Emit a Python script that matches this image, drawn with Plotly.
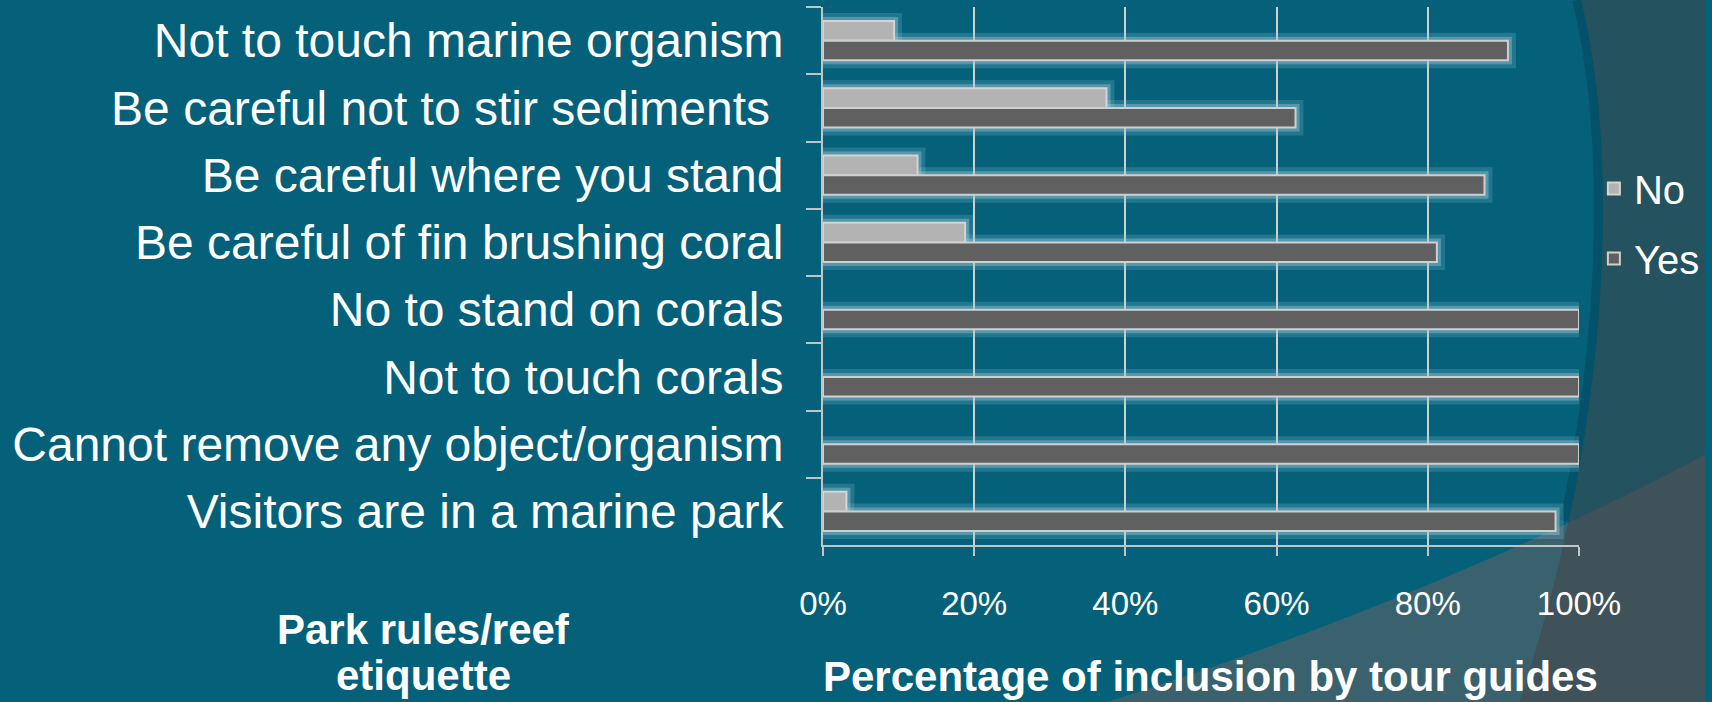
import numpy as np
import plotly.graph_objects as go

# ---------------- data ----------------
categories = [
    "Not to touch marine organism",
    "Be careful not to stir sediments\u00a0",
    "Be careful where you stand",
    "Be careful of fin brushing coral",
    "No to stand on corals",
    "Not to touch corals",
    "Cannot remove any object/organism",
    "Visitors are in a marine park",
]
no_pct = [9.4, 37.5, 12.5, 18.8, 0, 0, 0, 3.1]
yes_pct = [90.6, 62.5, 87.5, 81.2, 100, 100, 100, 96.9]
x_tick_vals = [0, 20, 40, 60, 80, 100]
x_tick_text = ["0%", "20%", "40%", "60%", "80%", "100%"]

# ---------------- geometry ----------------
W, H = 1712, 702
L, R, T, B = 823, 1585, 7, 545


def px(x):
    return (x - L) / (R - L)


def py(y):
    return 1 - (y - T) / (B - T)


FONT = "Liberation Sans, Arial, sans-serif"
TEAL = "#05617a"
DARK = "#24525f"
WEDGE = "#3a626e"
GRAY = "#405259"

# ---------------- background decoration ----------------
t = np.linspace(0, 1, 300)[:, None]
p0, c1, c2, p3 = (np.array(v, float) for v in [(1587, 0), (1625, 150), (1620, 420), (1525, 702)])
curve = (1 - t) ** 3 * p0 + 3 * (1 - t) ** 2 * t * c1 + 3 * (1 - t) * t ** 2 * c2 + t ** 3 * p3

q0, q1, q2 = (np.array(v, float) for v in [(1712, 455), (1434, 600), (1100, 705)])
wline = (1 - t) ** 2 * q0 + 2 * (1 - t) * t * q1 + t ** 2 * q2  # x decreasing

wx_inc = wline[::-1, 0]
wy_inc = wline[::-1, 1]
wy_at_curve = np.interp(curve[:, 0], wx_inc, wy_inc)
idx = int(np.argmax(curve[:, 1] > wy_at_curve))
xi = curve[idx, 0]
wl_part = [p for p in wline if p[0] >= xi]


def path_from(pts):
    s = "M " + " L ".join(f"{px(x):.5f},{py(y):.5f}" for x, y in pts)
    return s + " Z"


dark_pts = list(curve) + [(1712, 702), (1712, 0)]
wedge_pts = list(wline) + [(1712, 702)]
inter_pts = wl_part + list(curve[idx:]) + [(1712, 702)]

shapes = [
    dict(type="path", xref="paper", yref="paper", layer="below",
         path=path_from(wedge_pts), fillcolor=WEDGE, line=dict(width=0)),
    dict(type="path", xref="paper", yref="paper", layer="below",
         path="M " + " L ".join(f"{px(x - 4):.5f},{py(y):.5f}" for x, y in curve[:idx]),
         line=dict(color="rgba(0,50,70,0.30)", width=10)),
    dict(type="path", xref="paper", yref="paper", layer="below",
         path=path_from(dark_pts), fillcolor=DARK, line=dict(width=0)),
    dict(type="path", xref="paper", yref="paper", layer="below",
         path=path_from(inter_pts), fillcolor=GRAY, line=dict(width=0)),
]

# ---------------- traces ----------------
fig = go.Figure()


def widths(vals, w):
    return [w if v > 0 else 0 for v in vals]


# soft glow layers (separate overlaid y axes so they align with the main bars)
for ax, col, w in (("y", "rgba(140,195,212,0.22)", 16), ("y2", "rgba(160,205,220,0.40)", 8)):
    for vals in (no_pct, yes_pct):
        fig.add_trace(go.Bar(
            y=categories, x=vals, orientation="h", yaxis=ax, showlegend=False,
            hoverinfo="skip",
            marker=dict(color="rgba(0,0,0,0)", line=dict(color=col, width=widths(vals, w))),
        ))

fig.add_trace(go.Bar(
    name="No", y=categories, x=no_pct, orientation="h", yaxis="y3",
    legendgroup="no",
    marker=dict(color="#b3b3b3", line=dict(color="#d4d4d4", width=widths(no_pct, 2))),
))
fig.add_trace(go.Bar(
    name="Yes", y=categories, x=yes_pct, orientation="h", yaxis="y3",
    legendgroup="yes",
    marker=dict(color="#606060", line=dict(color="#cfcfcf", width=widths(yes_pct, 2))),
))

axis_col = "#c4c4c4"
hidden_y = dict(overlaying="y", categoryorder="array", categoryarray=categories,
                autorange="reversed", visible=False)
fig.update_layout(
    width=W, height=H,
    margin=dict(l=L, r=W - R, t=T, b=H - B, pad=0),
    paper_bgcolor=TEAL, plot_bgcolor="rgba(0,0,0,0)",
    barmode="group", bargap=0.42, bargroupgap=0,
    font=dict(family=FONT, color="white"),
    shapes=shapes,
    xaxis=dict(
        range=[0, 100], tickvals=x_tick_vals, ticktext=x_tick_text,
        ticks="outside", ticklen=9, tickcolor=axis_col, tickwidth=2,
        showgrid=True, gridcolor="#d0d0d0", gridwidth=1.5,
        showline=True, linecolor=axis_col, linewidth=2,
        zeroline=False,
        tickfont=dict(size=33, color="white", family=FONT),
        ticklabelstandoff=19,
    ),
    yaxis=dict(
        categoryorder="array", categoryarray=categories, autorange="reversed",
        tickson="boundaries", ticks="outside", ticklen=15, tickcolor=axis_col, tickwidth=2,
        showline=True, linecolor=axis_col, linewidth=2, showgrid=False, zeroline=False,
        tickfont=dict(size=48, color="white", family=FONT),
        ticklabelstandoff=28,
    ),
    yaxis2=hidden_y,
    yaxis3=hidden_y,
    legend=dict(
        x=px(1600), y=py(156), xanchor="left", yanchor="top",
        font=dict(size=40, color="white", family=FONT),
        bgcolor="rgba(0,0,0,0)", tracegroupgap=15,
        itemclick=False,
    ),
    annotations=[
        dict(text="<b>Park rules/reef</b>", x=420, y=629, xref="paper", yref="paper",
             showarrow=False, font=dict(size=42, color="white", family=FONT),
             xanchor="center", yanchor="middle"),
        dict(text="<b>etiquette</b>", x=420, y=675, xref="paper", yref="paper",
             showarrow=False, font=dict(size=42, color="white", family=FONT),
             xanchor="center", yanchor="middle"),
        dict(text="<b>Percentage of inclusion by tour guides</b>", x=1214, y=676,
             xref="paper", yref="paper", showarrow=False,
             font=dict(size=42, color="white", family=FONT),
             xanchor="center", yanchor="middle"),
    ],
)

for a in fig.layout.annotations:
    a.x = px(a.x)
    a.y = py(a.y)

fig.write_html("out.html")
